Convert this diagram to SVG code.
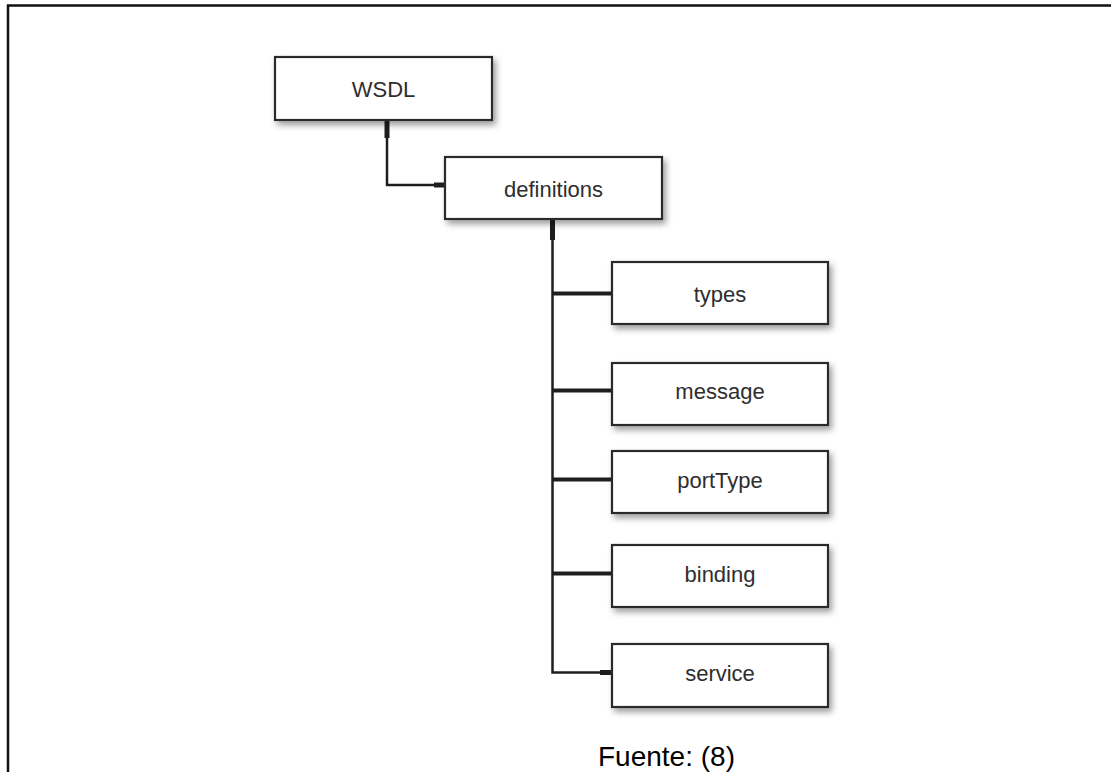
<svg xmlns="http://www.w3.org/2000/svg" width="1111" height="772" viewBox="0 0 1111 772">
  <defs>
    <filter id="shadow" x="-10%" y="-20%" width="130%" height="160%">
      <feDropShadow dx="3" dy="4" stdDeviation="3" flood-color="#000" flood-opacity="0.38"/>
    </filter>
  </defs>
  <style>
    .box { fill: #ffffff; stroke: #2a2a2a; stroke-width: 2.2; }
    .label { font-family: "Liberation Sans", Arial, sans-serif; font-size: 22px; fill: #2e2e2e; text-anchor: middle; }
    .wire { fill: none; stroke: #1e1e1e; stroke-width: 2.5; stroke-linecap: square; }
    .wire-bold { fill: none; stroke: #1e1e1e; stroke-width: 4; }
    .stub { fill: none; stroke: #1e1e1e; stroke-width: 5; }
    .frame { fill: none; stroke: #111111; stroke-width: 2.5; }
    .caption { font-family: "Liberation Sans", Arial, sans-serif; font-size: 28px; fill: #000000; }
  </style>

  <rect x="0" y="0" width="1111" height="772" fill="#ffffff"/>

  <!-- page frame: top and left rules -->
  <path class="frame" d="M8 772 V5.5 H1111"/>

  <!-- connectors -->
  <g id="connectors">
    <path class="wire" d="M387 120 V185 H445"/>
    <path class="stub" d="M387 120 V138"/>
    <path class="stub" d="M434 185 H445"/>
    <path class="wire" d="M552.5 219 V672.5 H612"/>
    <path class="stub" d="M552.5 219 V240"/>
    <path class="wire-bold" d="M552.5 293.5 H612"/>
    <path class="wire-bold" d="M552.5 390.5 H612"/>
    <path class="wire-bold" d="M552.5 479.5 H612"/>
    <path class="wire-bold" d="M552.5 573.5 H612"/>
    <path class="stub" d="M600 672.5 H612"/>
  </g>

  <g id="node-wsdl">
    <rect class="box" x="275" y="57" width="217" height="63" filter="url(#shadow)"/>
    <text class="label" x="383.5" y="96.5">WSDL</text>
  </g>

  <g id="node-definitions">
    <rect class="box" x="445" y="157" width="217" height="62" filter="url(#shadow)"/>
    <text class="label" x="553.5" y="196.5">definitions</text>
  </g>

  <g id="node-types">
    <rect class="box" x="612" y="262" width="216" height="62" filter="url(#shadow)"/>
    <text class="label" x="720" y="301.5">types</text>
  </g>

  <g id="node-message">
    <rect class="box" x="612" y="363" width="216" height="62" filter="url(#shadow)"/>
    <text class="label" x="720" y="398.5">message</text>
  </g>

  <g id="node-porttype">
    <rect class="box" x="612" y="451" width="216" height="62" filter="url(#shadow)"/>
    <text class="label" x="720" y="487.5">portType</text>
  </g>

  <g id="node-binding">
    <rect class="box" x="612" y="545" width="216" height="62" filter="url(#shadow)"/>
    <text class="label" x="720" y="581.5">binding</text>
  </g>

  <g id="node-service">
    <rect class="box" x="612" y="644" width="216" height="63" filter="url(#shadow)"/>
    <text class="label" x="720" y="680.5">service</text>
  </g>

  <text class="caption" x="598" y="766">Fuente: (8)</text>
</svg>
